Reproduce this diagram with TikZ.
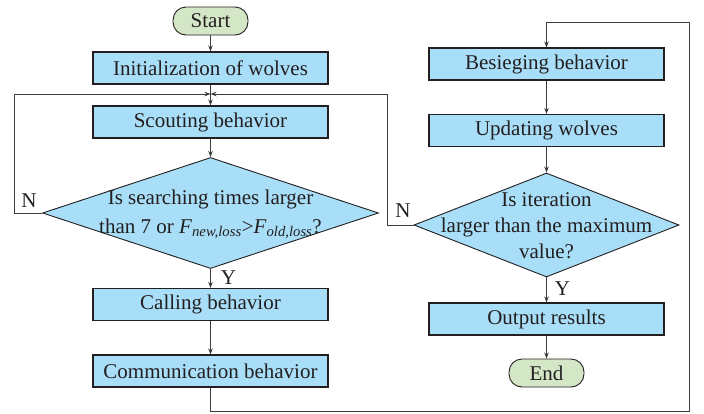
\documentclass[tikz,border=0pt]{standalone}
\usepackage{fontspec}
\setmainfont{Liberation Serif}
\usetikzlibrary{shapes.geometric,arrows.meta,calc}
\definecolor{boxblue}{RGB}{168,222,247}
\definecolor{termgreen}{RGB}{211,231,198}
\definecolor{ink}{RGB}{35,31,32}
\definecolor{wire}{RGB}{60,60,60}
\begin{document}
\begin{tikzpicture}[x=1pt,y=-1pt,
  font=\fontsize{21}{25}\selectfont, text=ink,
  procbox/.style={draw=ink, line width=1.1pt, fill=boxblue, minimum width=235pt, minimum height=32pt, inner sep=0pt},
  termbox/.style={draw=ink, line width=0.9pt, fill=termgreen, rounded corners=13pt, minimum width=75pt, minimum height=28pt, inner sep=0pt},
  decbox/.style={draw=ink, line width=0.9pt, fill=boxblue, diamond, inner sep=0pt},
  arr/.style={draw=wire, line width=0.9pt, -{Stealth[length=6pt,width=4.5pt]}},
  wireline/.style={draw=wire, line width=0.9pt},
  lbl/.style={inner sep=0pt}]
\useasboundingbox (0,0) rectangle (704,413);
% left column
\node[termbox] (start) at (210.5,21) {Start};
\node[procbox] (init) at (210.5,68) {Initialization of wolves};
\coordinate (m) at (210.5,94);
\node[procbox] (scout) at (210.5,122) {Scouting behavior};
\node[decbox, minimum width=336pt, minimum height=111pt] (d1) at (210.5,213) {};
\node[lbl, align=center, font=\fontsize{21}{29}\selectfont] (d1t) at (210.5,214) {Is searching times larger\\than 7 or \textit{F}\textsubscript{\textit{new,loss}}>\textit{F}\textsubscript{\textit{old,loss}}?};
\node[procbox] (call) at (210.5,304.5) {Calling behavior};
\node[procbox] (comm) at (210.5,371) {Communication behavior};
% right column
\node[procbox] (bes) at (546.5,64) {Besieging behavior};
\node[procbox] (upd) at (546.5,130.5) {Updating wolves};
\node[decbox, minimum width=265pt, minimum height=104pt] (d2) at (546.5,225) {};
\node[lbl, align=center, font=\fontsize{21}{26}\selectfont] (d2t) at (546.5,226) {Is iteration\\larger than the maximum\\value?};
\node[procbox] (out) at (546.5,319) {Output results};
\node[termbox] (end) at (546.5,373) {End};
% helper coordinates
\coordinate (lx) at (14,0);
\coordinate (rx) at (387.5,0);
\coordinate (br) at (689,411.5);
\coordinate (tr) at (689,22);
% connectors
\draw[arr] (start) -- (init);
\draw[wireline] (init.south) -- (m);
\draw[arr] (m) -- (scout.north);
\draw[arr] (scout) -- (d1.north);
\draw[arr] (d1.west) -- (lx |- d1.west) |- (m);
\draw[arr] (d1.south) -- node[lbl, right=10pt, pos=0.45] (y1) {Y} (call.north);
\draw[arr] (call) -- (comm);
\draw[arr] (comm.south) |- (br) -- (tr) -| (bes.north);
\draw[arr] (bes) -- (upd);
\draw[arr] (upd) -- (d2.north);
\draw[arr] (d2.west) -- (rx |- d2.west) |- (m);
\draw[arr] (d2.south) -- node[lbl, right=8pt, pos=0.45] (y2) {Y} (out.north);
\draw[arr] (out) -- (end);
\node[lbl] (n1) at (29,201) {N};
\node[lbl] (n2) at (403,211) {N};
\end{tikzpicture}
\end{document}
